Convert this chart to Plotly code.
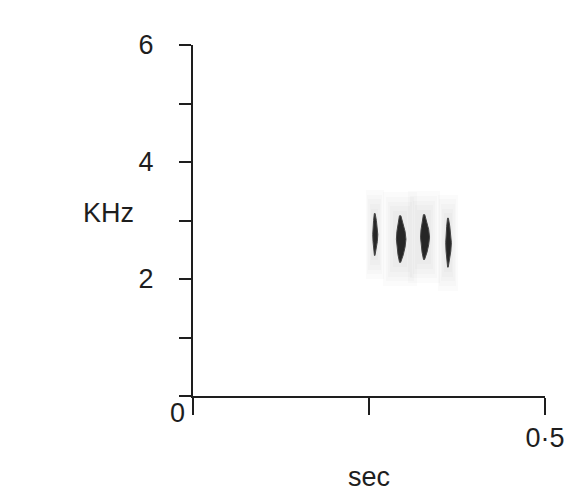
import plotly.graph_objects as go

# Data
pulse_time = [0.258, 0.294, 0.328, 0.362]      # s, centre of each pulse
pulse_lo = [2.40, 2.28, 2.33, 2.20]            # kHz, lower edge
pulse_hi = [3.12, 3.08, 3.10, 3.04]            # kHz, upper edge
pulse_dur = [0.009, 0.017, 0.016, 0.010]       # s, max width

x_tickvals = [0, 0.25, 0.5]
x_ticktext = ["", "", "0·5"]
y_tickvals = [0, 1, 2, 3, 4, 5, 6]
y_ticktext = ["", "", "2", "", "4", "", "6"]

INK = "#1e1e1e"
FS = 27
profile = [0.1, 0.55, 0.85, 1.0, 0.85, 0.55, 0.15]  # relative half-width along freq
halo = [(2.8, 0.40), (2.4, 0.32), (2.0, 0.24), (1.6, 0.16), (1.2, 0.08)]

fig = go.Figure()

# soft blur around each pulse
for wf, pad in halo:
    for t, lo, hi, d in zip(pulse_time, pulse_lo, pulse_hi, pulse_dur):
        fig.add_trace(go.Bar(x=[t], y=[hi - lo + 2 * pad], base=[lo - pad], width=[d * wf],
                             marker=dict(color="rgba(140,140,140,0.035)", line=dict(width=0)),
                             hoverinfo="skip", showlegend=False))

for t, lo, hi, d in zip(pulse_time, pulse_lo, pulse_hi, pulse_dur):
    n = len(profile)
    ys = [lo + (hi - lo) * i / (n - 1) for i in range(n)]
    xr = [t + p * d / 2 for p in profile]
    xl = [t - p * d / 2 * 0.6 for p in profile]
    fig.add_trace(go.Scatter(x=xr + xl[::-1], y=ys + ys[::-1], mode="lines",
                             fill="toself", fillcolor="#262626",
                             line=dict(color="#444444", width=1),
                             hoverinfo="skip", showlegend=False))

fig.update_layout(
    width=576, height=493,
    margin=dict(l=193, r=31, t=45, b=97),
    paper_bgcolor="white", plot_bgcolor="white",
    font=dict(family="Liberation Sans, Arial, sans-serif", size=FS, color=INK),
    bargap=0, barmode="overlay",
    xaxis=dict(range=[0, 0.5], tickvals=x_tickvals, ticktext=x_ticktext,
               ticks="outside", ticklen=17, tickwidth=2, tickcolor=INK,
               showline=True, linewidth=2, linecolor=INK, showgrid=False,
               zeroline=False, ticklabelstandoff=0, fixedrange=True),
    yaxis=dict(range=[0, 6], tickvals=y_tickvals, ticktext=y_ticktext,
               ticks="outside", ticklen=12, tickwidth=2, tickcolor=INK,
               showline=True, linewidth=2, linecolor=INK, showgrid=False,
               zeroline=False, ticklabelstandoff=20, fixedrange=True),
    annotations=[
        dict(text="0", x=0, y=0, xref="x", yref="y", showarrow=False,
             xanchor="right", yanchor="top", xshift=-6, yshift=0,
             font=dict(size=FS, color=INK)),
        dict(text="KHz", x=(81 - 193) / (576 - 193 - 31), y=(396 - 213) / (396 - 45),
             xref="paper", yref="paper", showarrow=False, font=dict(size=FS, color=INK)),
        dict(text="sec", x=0.5, y=0, xref="paper", yref="paper", showarrow=False,
             yanchor="top", yshift=-64, font=dict(size=FS, color=INK)),
    ],
)
fig.write_html("out.html")
